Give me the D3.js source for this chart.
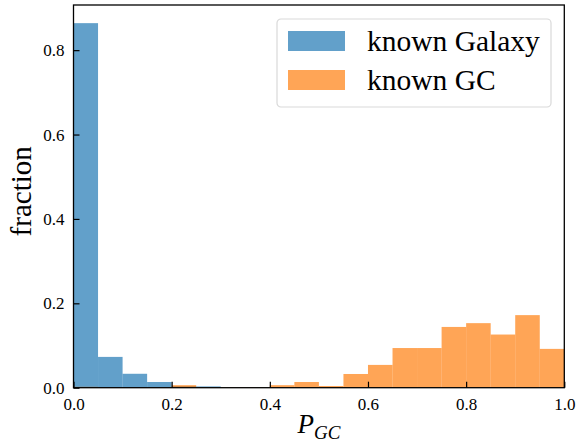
<!DOCTYPE html>
<html>
<head>
<meta charset="utf-8">
<script src="https://cdn.jsdelivr.net/npm/d3@7"></script>
<style>
  body { margin: 0; background: #fff; }
  text { font-family: "Liberation Serif", "DejaVu Serif", serif; fill: #000; }
</style>
</head>
<body>
<div id="vis"></div>
<script>
// bin edges: 20 bins of width 0.05 between 0 and 1
const binStarts = d3.range(20).map(i => i * 0.05)
const galaxyFrac = [0.864, 0.073, 0.033, 0.0135, 0.004, 0.003, 0, 0, 0, 0,
                    0, 0, 0, 0, 0, 0, 0, 0, 0, 0]
const gcFrac = [0.002, 0.001, 0.001, 0.001, 0.006, 0.001, 0.001, 0.001, 0.006, 0.0135,
                0.004, 0.0325, 0.054, 0.094, 0.094, 0.144, 0.153, 0.126, 0.172, 0.092]
const seriesNames = ['known Galaxy', 'known GC']
const xTicks = [0, 0.2, 0.4, 0.6, 0.8, 1.0]
const yTicks = [0, 0.2, 0.4, 0.6, 0.8]

const colors = ['#1f77b4', '#ff7f0e']
const margin = { left: 73.5, top: 5, right: 20, bottom: 55 }
const W = 584, H = 443
const width = 564.3 - margin.left
const height = 387.7 - margin.top

const svg = d3.select('#vis').append('svg')
  .attr('width', W).attr('height', H)

const g = svg.append('g').attr('transform', `translate(${margin.left},${margin.top})`)

const x = d3.scaleLinear().domain([0, 1]).range([0, width])
const y = d3.scaleLinear().domain([0, 0.907]).range([height, 0])

// bars, galaxy first then GC on top
;[galaxyFrac, gcFrac].forEach((vals, k) => {
  g.append('g').selectAll('rect')
    .data(vals)
    .enter().append('rect')
    .attr('x', (d, i) => x(binStarts[i]))
    .attr('width', (d, i) => x(binStarts[i] + 0.05) - x(binStarts[i]))
    .attr('y', d => y(d))
    .attr('height', d => y(0) - y(d))
    .attr('fill', colors[k])
    .attr('fill-opacity', 0.7)
})

// axes with inward ticks
const xAxis = g.append('g').attr('transform', `translate(0,${height})`)
  .call(d3.axisBottom(x).tickValues(xTicks).tickFormat(d3.format('.1f')).tickSizeInner(-6).tickSizeOuter(0).tickPadding(10))
const yAxis = g.append('g')
  .call(d3.axisLeft(y).tickValues(yTicks).tickFormat(d3.format('.1f')).tickSizeInner(-6).tickSizeOuter(0).tickPadding(9))

;[xAxis, yAxis].forEach(a => {
  a.select('.domain').remove()
  a.selectAll('line').attr('stroke', '#000').attr('stroke-width', 1.2)
  a.selectAll('text').style('font-size', '17px').style('font-family', '"Liberation Serif", serif')
})
xAxis.selectAll('text').attr('dy', '0.71em')
yAxis.selectAll('text').attr('dy', '0.33em')

// frame
g.append('rect')
  .attr('width', width).attr('height', height)
  .attr('fill', 'none').attr('stroke', '#000').attr('stroke-width', 1.3)

// axis labels
svg.append('text')
  .attr('transform', `translate(31,${margin.top + height / 2 - 5}) rotate(-90)`)
  .attr('text-anchor', 'middle')
  .style('font-size', '29px')
  .text('fraction')

const xl = svg.append('text')
  .attr('x', margin.left + width / 2)
  .attr('y', 433)
  .attr('text-anchor', 'middle')
  .style('font-size', '27px')
  .style('font-style', 'italic')
xl.append('tspan').text('P')
xl.append('tspan').attr('dy', 6).style('font-size', '19px').text('GC')

// legend
const leg = svg.append('g').attr('transform', 'translate(277,19)')
leg.append('rect')
  .attr('width', 274).attr('height', 88).attr('rx', 4)
  .attr('fill', '#fff').attr('fill-opacity', 0.8)
  .attr('stroke', '#d9d9d9').attr('stroke-width', 1.2)
seriesNames.forEach((name, i) => {
  const row = leg.append('g').attr('transform', `translate(0,${12 + i * 39})`)
  row.append('rect')
    .attr('x', 11).attr('width', 57).attr('height', 20)
    .attr('fill', colors[i]).attr('fill-opacity', 0.7)
  row.append('text')
    .attr('x', 90).attr('y', 20)
    .style('font-size', '29.5px')
    .text(name)
})
</script>
</body>
</html>
